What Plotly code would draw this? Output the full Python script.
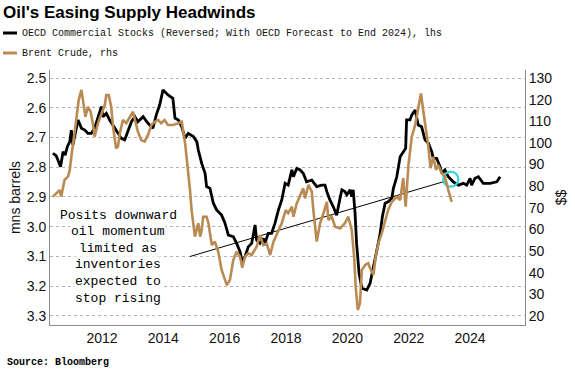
import plotly.graph_objects as go

# ---------------- data ----------------
stocks_year = [2010.40, 2010.51, 2010.65, 2010.73, 2010.80, 2010.87, 2010.95, 2011.00, 2011.05, 2011.11,
               2011.22, 2011.33, 2011.44, 2011.54, 2011.65, 2011.76, 2011.87, 2011.98, 2012.03, 2012.14,
               2012.25, 2012.41, 2012.52, 2012.63, 2012.74, 2012.85, 2012.96, 2013.07, 2013.17, 2013.34,
               2013.50, 2013.66, 2013.77, 2013.88, 2013.99, 2014.15, 2014.31, 2014.38, 2014.49, 2014.60,
               2014.71, 2014.81, 2014.98, 2015.09, 2015.14, 2015.25, 2015.36, 2015.41, 2015.52, 2015.63,
               2015.74, 2015.90, 2016.01, 2016.12, 2016.28, 2016.39, 2016.50, 2016.57, 2016.66, 2016.77,
               2016.88, 2016.99, 2017.04, 2017.15, 2017.26, 2017.31, 2017.42, 2017.53, 2017.64, 2017.75,
               2017.86, 2017.97, 2018.07, 2018.19, 2018.24, 2018.35, 2018.46, 2018.56, 2018.67, 2018.84,
               2019.00, 2019.16, 2019.27, 2019.33, 2019.43, 2019.54, 2019.65, 2019.76, 2019.82, 2019.92,
               2019.98, 2020.09, 2020.14, 2020.19, 2020.25, 2020.30, 2020.38, 2020.47, 2020.63, 2020.74,
               2020.85, 2020.96, 2021.06, 2021.14, 2021.23, 2021.33, 2021.45, 2021.50, 2021.61, 2021.72,
               2021.82, 2021.90, 2021.93, 2022.04, 2022.10, 2022.21, 2022.31, 2022.42, 2022.53, 2022.64,
               2022.75, 2022.80, 2022.91, 2023.02, 2023.08, 2023.18, 2023.29, 2023.45, 2023.62, 2023.78,
               2023.89, 2024.00, 2024.05, 2024.16, 2024.27, 2024.43, 2024.65, 2024.87, 2024.98]
stocks_bn = [2.753, 2.762, 2.798, 2.748, 2.759, 2.731, 2.714, 2.675, 2.725, 2.692,
             2.641, 2.669, 2.675, 2.686, 2.686, 2.669, 2.635, 2.596, 2.630, 2.619,
             2.641, 2.669, 2.686, 2.703, 2.708, 2.675, 2.647, 2.630, 2.647, 2.630,
             2.652, 2.669, 2.624, 2.591, 2.540, 2.557, 2.568, 2.635, 2.641, 2.664,
             2.703, 2.686, 2.697, 2.714, 2.742, 2.787, 2.820, 2.865, 2.871, 2.921,
             2.944, 2.961, 2.988, 3.028, 3.033, 3.056, 3.084, 3.117, 3.101, 3.067,
             3.056, 2.994, 3.045, 3.056, 3.039, 3.056, 3.022, 3.022, 2.988, 2.944,
             2.910, 2.854, 2.860, 2.809, 2.832, 2.804, 2.809, 2.820, 2.849, 2.843,
             2.865, 2.860, 2.860, 2.882, 2.910, 2.933, 2.961, 2.904, 2.876, 2.882,
             2.893, 2.876, 2.899, 2.876, 2.955, 3.056, 3.156, 3.207, 3.213, 3.190,
             3.134, 3.084, 3.028, 2.966, 2.921, 2.916, 2.904, 2.871, 2.832, 2.765,
             2.748, 2.736, 2.641, 2.641, 2.624, 2.608, 2.658, 2.664, 2.708, 2.719,
             2.748, 2.770, 2.770, 2.798, 2.820, 2.809, 2.832, 2.849, 2.860, 2.854,
             2.860, 2.837, 2.860, 2.837, 2.832, 2.854, 2.854, 2.849, 2.832]

brent_year = [2010.40, 2010.51, 2010.62, 2010.67, 2010.78, 2010.89, 2010.95, 2011.00, 2011.05, 2011.16,
              2011.24, 2011.33, 2011.38, 2011.46, 2011.54, 2011.63, 2011.71, 2011.76, 2011.87, 2011.98,
              2012.09, 2012.14, 2012.22, 2012.30, 2012.36, 2012.46, 2012.52, 2012.58, 2012.68, 2012.79,
              2012.90, 2013.01, 2013.09, 2013.17, 2013.28, 2013.39, 2013.50, 2013.61, 2013.72, 2013.83,
              2013.93, 2014.04, 2014.15, 2014.31, 2014.49, 2014.60, 2014.71, 2014.81, 2014.87, 2014.92,
              2015.03, 2015.14, 2015.20, 2015.25, 2015.30, 2015.41, 2015.47, 2015.58, 2015.68, 2015.79,
              2015.90, 2016.07, 2016.17, 2016.28, 2016.39, 2016.50, 2016.57, 2016.66, 2016.77, 2016.88,
              2017.04, 2017.15, 2017.26, 2017.37, 2017.48, 2017.59, 2017.75, 2017.86, 2017.99, 2018.07,
              2018.19, 2018.24, 2018.35, 2018.46, 2018.56, 2018.62, 2018.73, 2018.84, 2018.89, 2019.00,
              2019.11, 2019.22, 2019.33, 2019.38, 2019.49, 2019.60, 2019.76, 2019.92, 2020.03, 2020.14,
              2020.22, 2020.27, 2020.34, 2020.41, 2020.47, 2020.58, 2020.68, 2020.74, 2020.85, 2020.92,
              2021.01, 2021.12, 2021.23, 2021.33, 2021.45, 2021.61, 2021.72, 2021.82, 2021.90, 2021.99,
              2022.10, 2022.21, 2022.31, 2022.40, 2022.47, 2022.56, 2022.64, 2022.71, 2022.80, 2022.89,
              2022.96, 2023.08, 2023.18, 2023.29, 2023.40]
brent_usd = [75.2, 76.7, 78.2, 75.2, 82.9, 84.4, 87.5, 93.6, 98.3, 110.6,
             119.8, 124.5, 119.8, 112.1, 116.7, 114.4, 108.3, 102.9, 109.1, 113.7,
             117.5, 122.1, 122.1, 116.7, 107.5, 97.5, 98.3, 104.4, 110.6, 109.1,
             112.1, 114.4, 109.8, 105.2, 101.3, 100.6, 103.7, 108.3, 109.8, 110.6,
             109.1, 110.6, 108.3, 108.3, 109.1, 109.8, 99.8, 87.5, 78.2, 69.1,
             56.7, 62.9, 56.7, 59.8, 65.9, 65.9, 62.9, 52.8, 54.4, 49.7,
             41.3, 34.3, 36.7, 45.9, 49.7, 47.4, 42.4, 47.4, 49.0, 48.2,
             52.0, 57.4, 52.8, 53.6, 48.2, 54.4, 59.8, 62.9, 69.0, 67.5,
             70.5, 65.9, 72.1, 75.9, 79.0, 74.4, 80.6, 77.5, 69.0, 54.4,
             62.9, 67.5, 72.8, 64.4, 65.9, 61.3, 60.5, 62.9, 65.9, 59.8,
             47.4, 33.6, 22.8, 25.9, 41.3, 43.6, 44.4, 42.1, 39.0, 47.4,
             53.6, 58.2, 64.4, 69.0, 72.8, 75.1, 73.6, 83.7, 70.5, 89.8,
             102.9, 108.3, 116.0, 122.9, 115.2, 106.8, 98.3, 88.3, 93.6, 87.5,
             89.8, 86.0, 84.4, 78.2, 72.8]

trend_year = [2014.87, 2023.22]
trend_bn = [3.100, 2.846]
marker_year = [2023.37]
marker_bn = [2.840]

x_ticks = [2012, 2014, 2016, 2018, 2020, 2022, 2024]
left_ticks = [2.5, 2.6, 2.7, 2.8, 2.9, 3.0, 3.1, 3.2, 3.3]
left_tick_text = ["2.5", "2.6", "2.7", "2.8", "2.9", "3.0", "3.1", "3.2", "3.3"]
right_ticks = [20, 30, 40, 50, 60, 70, 80, 90, 100, 110, 120, 130]

title_text = "Oil's Easing Supply Headwinds"
stocks_name = "OECD Commercial Stocks (Reversed; With OECD Forecast to End 2024), lhs"
brent_name = "Brent Crude, rhs"
note_lines = ["Posits downward", "oil momentum", "limited as", "inventories",
              "expected to", "stop rising"]
source_text = "Source: Bloomberg"

# ---------------- styling ----------------
BLACK = "#000000"
GOLD = "#b98a52"
CYAN = "#2fd6d6"
GRID = "#b4b4b4"
AXIS = "#8c8c8c"
SANS = "Liberation Sans, Arial, sans-serif"
MONO = "Liberation Mono, DejaVu Sans Mono, monospace"

W, H = 575, 370
ML, MR, MT, MB = 50, 50, 70, 45
PW, PH = W - ML - MR, H - MT - MB


def px(x):
    return (x - ML) / PW


def py(y):
    return 1 - (y - MT) / PH


fig = go.Figure()

fig.add_trace(go.Scatter(x=brent_year, y=brent_usd, name=brent_name, yaxis="y2",
                         mode="lines", line=dict(color=GOLD, width=2.6), showlegend=False))
fig.add_trace(go.Scatter(x=stocks_year, y=stocks_bn, name=stocks_name, yaxis="y",
                         mode="lines", line=dict(color=BLACK, width=2.8), showlegend=False))
fig.add_trace(go.Scatter(x=trend_year, y=trend_bn, mode="lines", yaxis="y",
                         line=dict(color=BLACK, width=1), showlegend=False, hoverinfo="skip"))
fig.add_trace(go.Scatter(x=marker_year, y=marker_bn, mode="markers", yaxis="y",
                         marker=dict(symbol="circle-open", size=15, color=CYAN,
                                     line=dict(color=CYAN, width=2.2)),
                         showlegend=False, hoverinfo="skip"))

fig.update_layout(
    width=W, height=H,
    margin=dict(l=ML, r=MR, t=MT, b=MB, autoexpand=False),
    paper_bgcolor="white", plot_bgcolor="white",
    font=dict(family=SANS, size=14, color="#111111"),
    title=dict(text="<b>" + title_text + "</b>", x=3 / W, xref="container", xanchor="left",
               y=1 - 12 / H, yref="container", yanchor="middle",
               font=dict(family=SANS, size=17, color="#000000")),
    xaxis=dict(range=[2010.305, 2025.79], tickvals=x_ticks, ticktext=[str(t) for t in x_ticks],
               showgrid=False, zeroline=False, showline=True, linecolor=AXIS, linewidth=1,
               ticks="", automargin=False, tickfont=dict(family=SANS, size=14, color="#111111")),
    yaxis=dict(range=[3.3303, 2.4731], tickvals=left_ticks, ticktext=left_tick_text,
               showgrid=True, gridcolor=GRID, griddash="dot", gridwidth=1,
               zeroline=False, showline=True, linecolor=AXIS, linewidth=1, ticks="",
               automargin=False, tickfont=dict(family=SANS, size=14, color="#111111"),
               title=dict(text="mns barrels", standoff=2, font=dict(family=SANS, size=14))),
    yaxis2=dict(range=[15.86, 133.70], tickvals=right_ticks, overlaying="y", side="right",
                showgrid=False, zeroline=False, showline=True, linecolor=AXIS, linewidth=1,
                ticks="", automargin=False, tickfont=dict(family=SANS, size=14, color="#111111"),
                title=dict(text="$$", standoff=4, font=dict(family=SANS, size=14))),
)

# custom legend (short line samples like the reference)
legend_rows = [(stocks_name, BLACK, 33), (brent_name, GOLD, 53)]
for label, color, yy in legend_rows:
    fig.add_shape(type="line", xref="paper", yref="paper",
                  x0=px(3), x1=px(17), y0=py(yy), y1=py(yy),
                  line=dict(color=color, width=3))
    fig.add_annotation(text=label, xref="paper", yref="paper", x=px(20), y=py(yy),
                       xanchor="left", yanchor="middle", showarrow=False,
                       font=dict(family=MONO, size=10, color="#111111"))

# note text: one line per annotation so each line hides the grid only behind itself
note_y0 = 215
for i, line_text in enumerate(note_lines):
    fig.add_annotation(text=line_text, xref="paper", yref="paper",
                       x=px(118), y=py(note_y0 + i * 16.6),
                       xanchor="center", yanchor="middle", showarrow=False,
                       bgcolor="white", borderpad=0,
                       font=dict(family=MONO, size=13, color="#000000"))

fig.add_annotation(text="<b>" + source_text + "</b>", xref="paper", yref="paper",
                   x=px(5), y=py(362), xanchor="left", yanchor="middle", showarrow=False,
                   font=dict(family=MONO, size=10, color="#000000"))

# remove the browser's default 8px page margin so the figure sits at the window's corner
fig.write_html("out.html", config={"displayModeBar": False},
               post_script="document.body.style.margin='0';document.body.style.overflow='hidden';")
